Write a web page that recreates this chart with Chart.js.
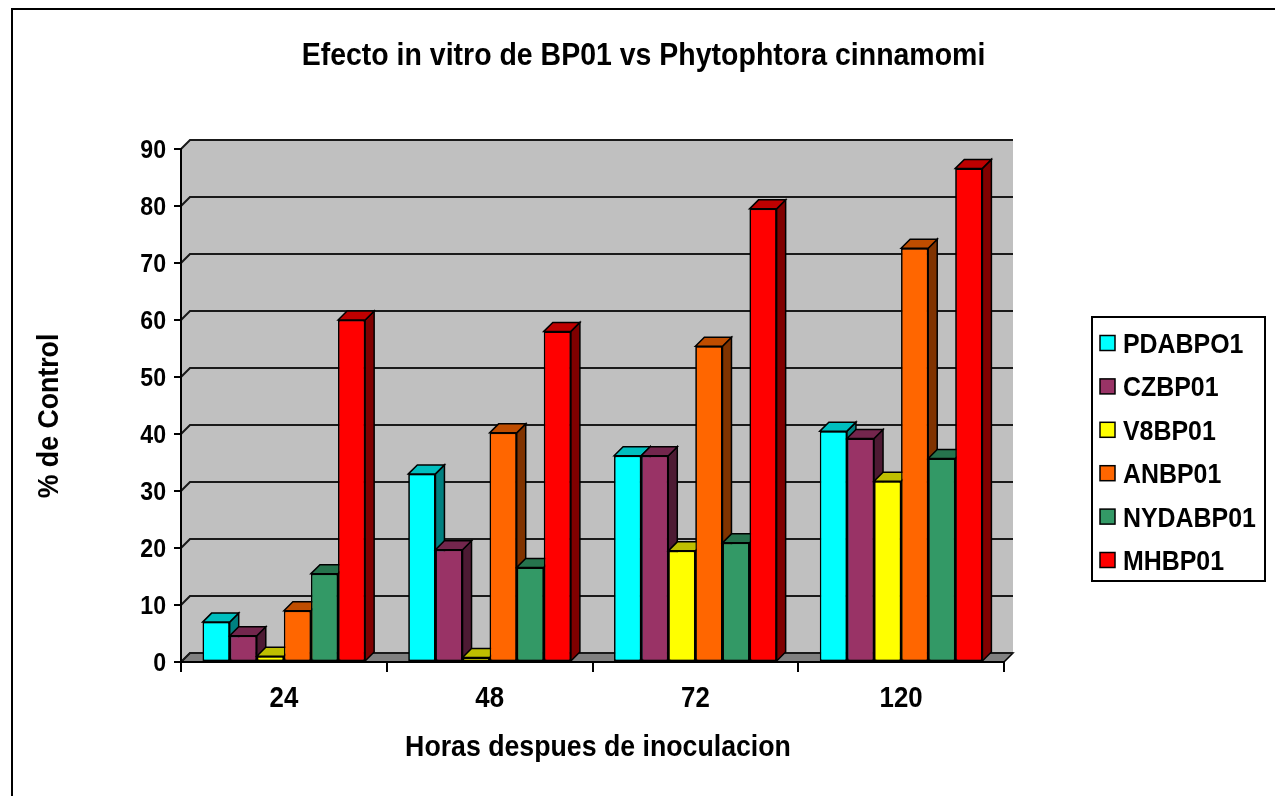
<!DOCTYPE html>
<html><head><meta charset="utf-8">
<script src="https://cdn.jsdelivr.net/npm/chart.js@4.4.0/dist/chart.umd.min.js"></script>
<style>html,body{margin:0;padding:0;background:#fff;overflow:hidden}</style>
</head><body><canvas id="c" width="1275" height="796"></canvas>
<script>
const chartTitle = 'Efecto in vitro de BP01 vs Phytophtora cinnamomi';
const xTitle = 'Horas despues de inoculacion';
const yTitle = '% de Control';
const categories = ['24', '48', '72', '120'];
const seriesNames = ['PDABPO1', 'CZBP01', 'V8BP01', 'ANBP01', 'NYDABP01', 'MHBP01'];
const PDABPO1 = [7.0, 33.0, 36.2, 40.5];
const CZBP01 = [4.6, 19.7, 36.2, 39.2];
const V8BP01 = [1.0, 0.8, 19.5, 31.7];
const ANBP01 = [9.0, 40.2, 55.4, 72.6];
const NYDABP01 = [15.5, 16.6, 20.9, 35.7];
const MHBP01 = [60.0, 58.0, 79.5, 86.6];
const seriesData = [PDABPO1, CZBP01, V8BP01, ANBP01, NYDABP01, MHBP01];
const seriesColors = ['#00FFFF', '#993366', '#FFFF00', '#FF6600', '#339966', '#FF0000'];
const yMin = 0, yMax = 90, yStep = 10;

const FONT = "'Liberation Sans', Arial, Helvetica, sans-serif";
const D = 9;
const SX = 0.89; // horizontal condensation of the original's lettering

function shade(hex, f) {
  const n = parseInt(hex.slice(1), 16);
  const r = Math.round(((n >> 16) & 255) * f);
  const g = Math.round(((n >> 8) & 255) * f);
  const b = Math.round((n & 255) * f);
  return 'rgb(' + r + ',' + g + ',' + b + ')';
}

// draws text whose cap height is centred on (x, cy)
function txt(ctx, s, x, cy, size, align, rot) {
  ctx.save();
  ctx.translate(x, cy);
  if (rot) ctx.rotate(rot);
  ctx.scale(SX, 1);
  ctx.font = 'bold ' + size + 'px ' + FONT;
  ctx.textAlign = align; ctx.textBaseline = 'alphabetic';
  ctx.fillStyle = '#000';
  ctx.fillText(s, 0, 0.358 * size);
  ctx.restore();
}

const threeD = {
  id: 'threeD',
  beforeDraw(chart) {
    const ctx = chart.ctx, a = chart.chartArea, y = chart.scales.y;
    ctx.save();
    ctx.fillStyle = '#fff';
    ctx.fillRect(0, 0, chart.width, chart.height);
    ctx.lineWidth = 2; ctx.strokeStyle = '#000';
    ctx.strokeRect(12, 9, 1400, 1000);
    ctx.fillStyle = '#C0C0C0';
    ctx.beginPath();
    ctx.moveTo(a.left, a.top); ctx.lineTo(a.left + D, a.top - D);
    ctx.lineTo(a.right + D, a.top - D); ctx.lineTo(a.right + D, a.bottom - D);
    ctx.lineTo(a.left + D, a.bottom - D); ctx.lineTo(a.left, a.bottom);
    ctx.closePath(); ctx.fill();
    ctx.fillStyle = '#808080'; ctx.lineWidth = 1.5; ctx.strokeStyle = '#000';
    ctx.beginPath();
    ctx.moveTo(a.left, a.bottom); ctx.lineTo(a.left + D, a.bottom - D);
    ctx.lineTo(a.right + D, a.bottom - D); ctx.lineTo(a.right, a.bottom);
    ctx.closePath(); ctx.fill(); ctx.stroke();
    ctx.strokeStyle = '#1a1a1a'; ctx.lineWidth = 2;
    y.ticks.forEach(t => {
      const py = y.getPixelForValue(t.value);
      ctx.beginPath();
      ctx.moveTo(a.left, py); ctx.lineTo(a.left + D, py - D); ctx.lineTo(a.right + D, py - D);
      ctx.stroke();
    });
    ctx.restore();
  },
  afterDatasetsDraw(chart) {
    const ctx = chart.ctx;
    ctx.save();
    chart.data.datasets.forEach((ds, i) => {
      const meta = chart.getDatasetMeta(i);
      if (meta.hidden) return;
      const col = ds.backgroundColor;
      meta.data.forEach(el => {
        el.draw(ctx);
        const p = el.getProps(['x', 'y', 'base', 'width'], true);
        const l = p.x - p.width / 2, r = p.x + p.width / 2, t = p.y, b = p.base;
        ctx.lineWidth = 1.5; ctx.strokeStyle = '#000'; ctx.lineJoin = 'miter';
        ctx.fillStyle = shade(col, 0.5);
        ctx.beginPath();
        ctx.moveTo(r, t); ctx.lineTo(r + D, t - D); ctx.lineTo(r + D, b - D); ctx.lineTo(r, b);
        ctx.closePath(); ctx.fill(); ctx.stroke();
        ctx.fillStyle = shade(col, 0.75);
        ctx.beginPath();
        ctx.moveTo(l, t); ctx.lineTo(l + D, t - D); ctx.lineTo(r + D, t - D); ctx.lineTo(r, t);
        ctx.closePath(); ctx.fill(); ctx.stroke();
      });
    });
    ctx.restore();
  },
  afterDraw(chart) {
    const ctx = chart.ctx, a = chart.chartArea, xs = chart.scales.x, ys = chart.scales.y;
    ys.ticks.forEach(t => txt(ctx, String(t.value), a.left - 15, ys.getPixelForValue(t.value), 26, 'right'));
    xs.ticks.forEach((t, i) => txt(ctx, categories[i], xs.getPixelForTick(i), 696.5, 29, 'center'));
    txt(ctx, chartTitle, 643.5, 54, 32, 'center');
    txt(ctx, xTitle, 598, 745.5, 30, 'center');
    txt(ctx, yTitle, 47, 416, 30, 'center', -Math.PI / 2);
    ctx.save();
    ctx.lineWidth = 2; ctx.strokeStyle = '#000';
    ctx.strokeRect(1092, 317, 173, 264);
    seriesNames.forEach((n, i) => {
      const cy = 343 + i * 43.4;
      ctx.fillStyle = seriesColors[i];
      ctx.fillRect(1100, cy - 7.5, 15, 15);
      ctx.lineWidth = 1.5; ctx.strokeRect(1100, cy - 7.5, 15, 15);
      txt(ctx, n, 1123, cy, 28, 'left');
    });
    ctx.restore();
  }
};

new Chart(document.getElementById('c'), {
  type: 'bar',
  data: {
    labels: categories,
    datasets: seriesNames.map((n, i) => ({
      label: n, data: seriesData[i], backgroundColor: seriesColors[i],
      borderColor: '#000', borderWidth: 1.5, borderSkipped: false,
      categoryPercentage: 0.79, barPercentage: 1
    }))
  },
  options: {
    responsive: false, animation: false, devicePixelRatio: 1,
    layout: { padding: { left: 0, right: 271, top: 149, bottom: 34 } },
    plugins: { legend: { display: false }, title: { display: false }, tooltip: { enabled: false } },
    scales: {
      x: {
        grid: { offset: true, drawOnChartArea: false, drawTicks: true, tickLength: 10, color: '#000', lineWidth: 2 },
        border: { display: true, color: '#000', width: 2 },
        ticks: { display: false, autoSkip: false, maxRotation: 0 },
        afterFit(s) { s.height = 100; }
      },
      y: {
        min: yMin, max: yMax,
        grid: { drawOnChartArea: false, drawTicks: true, tickLength: 7, color: '#000', lineWidth: 2 },
        border: { display: true, color: '#000', width: 2 },
        ticks: { display: false, stepSize: yStep, autoSkip: false },
        afterFit(s) { s.width = 181; }
      }
    }
  },
  plugins: [threeD]
});
</script></body></html>
